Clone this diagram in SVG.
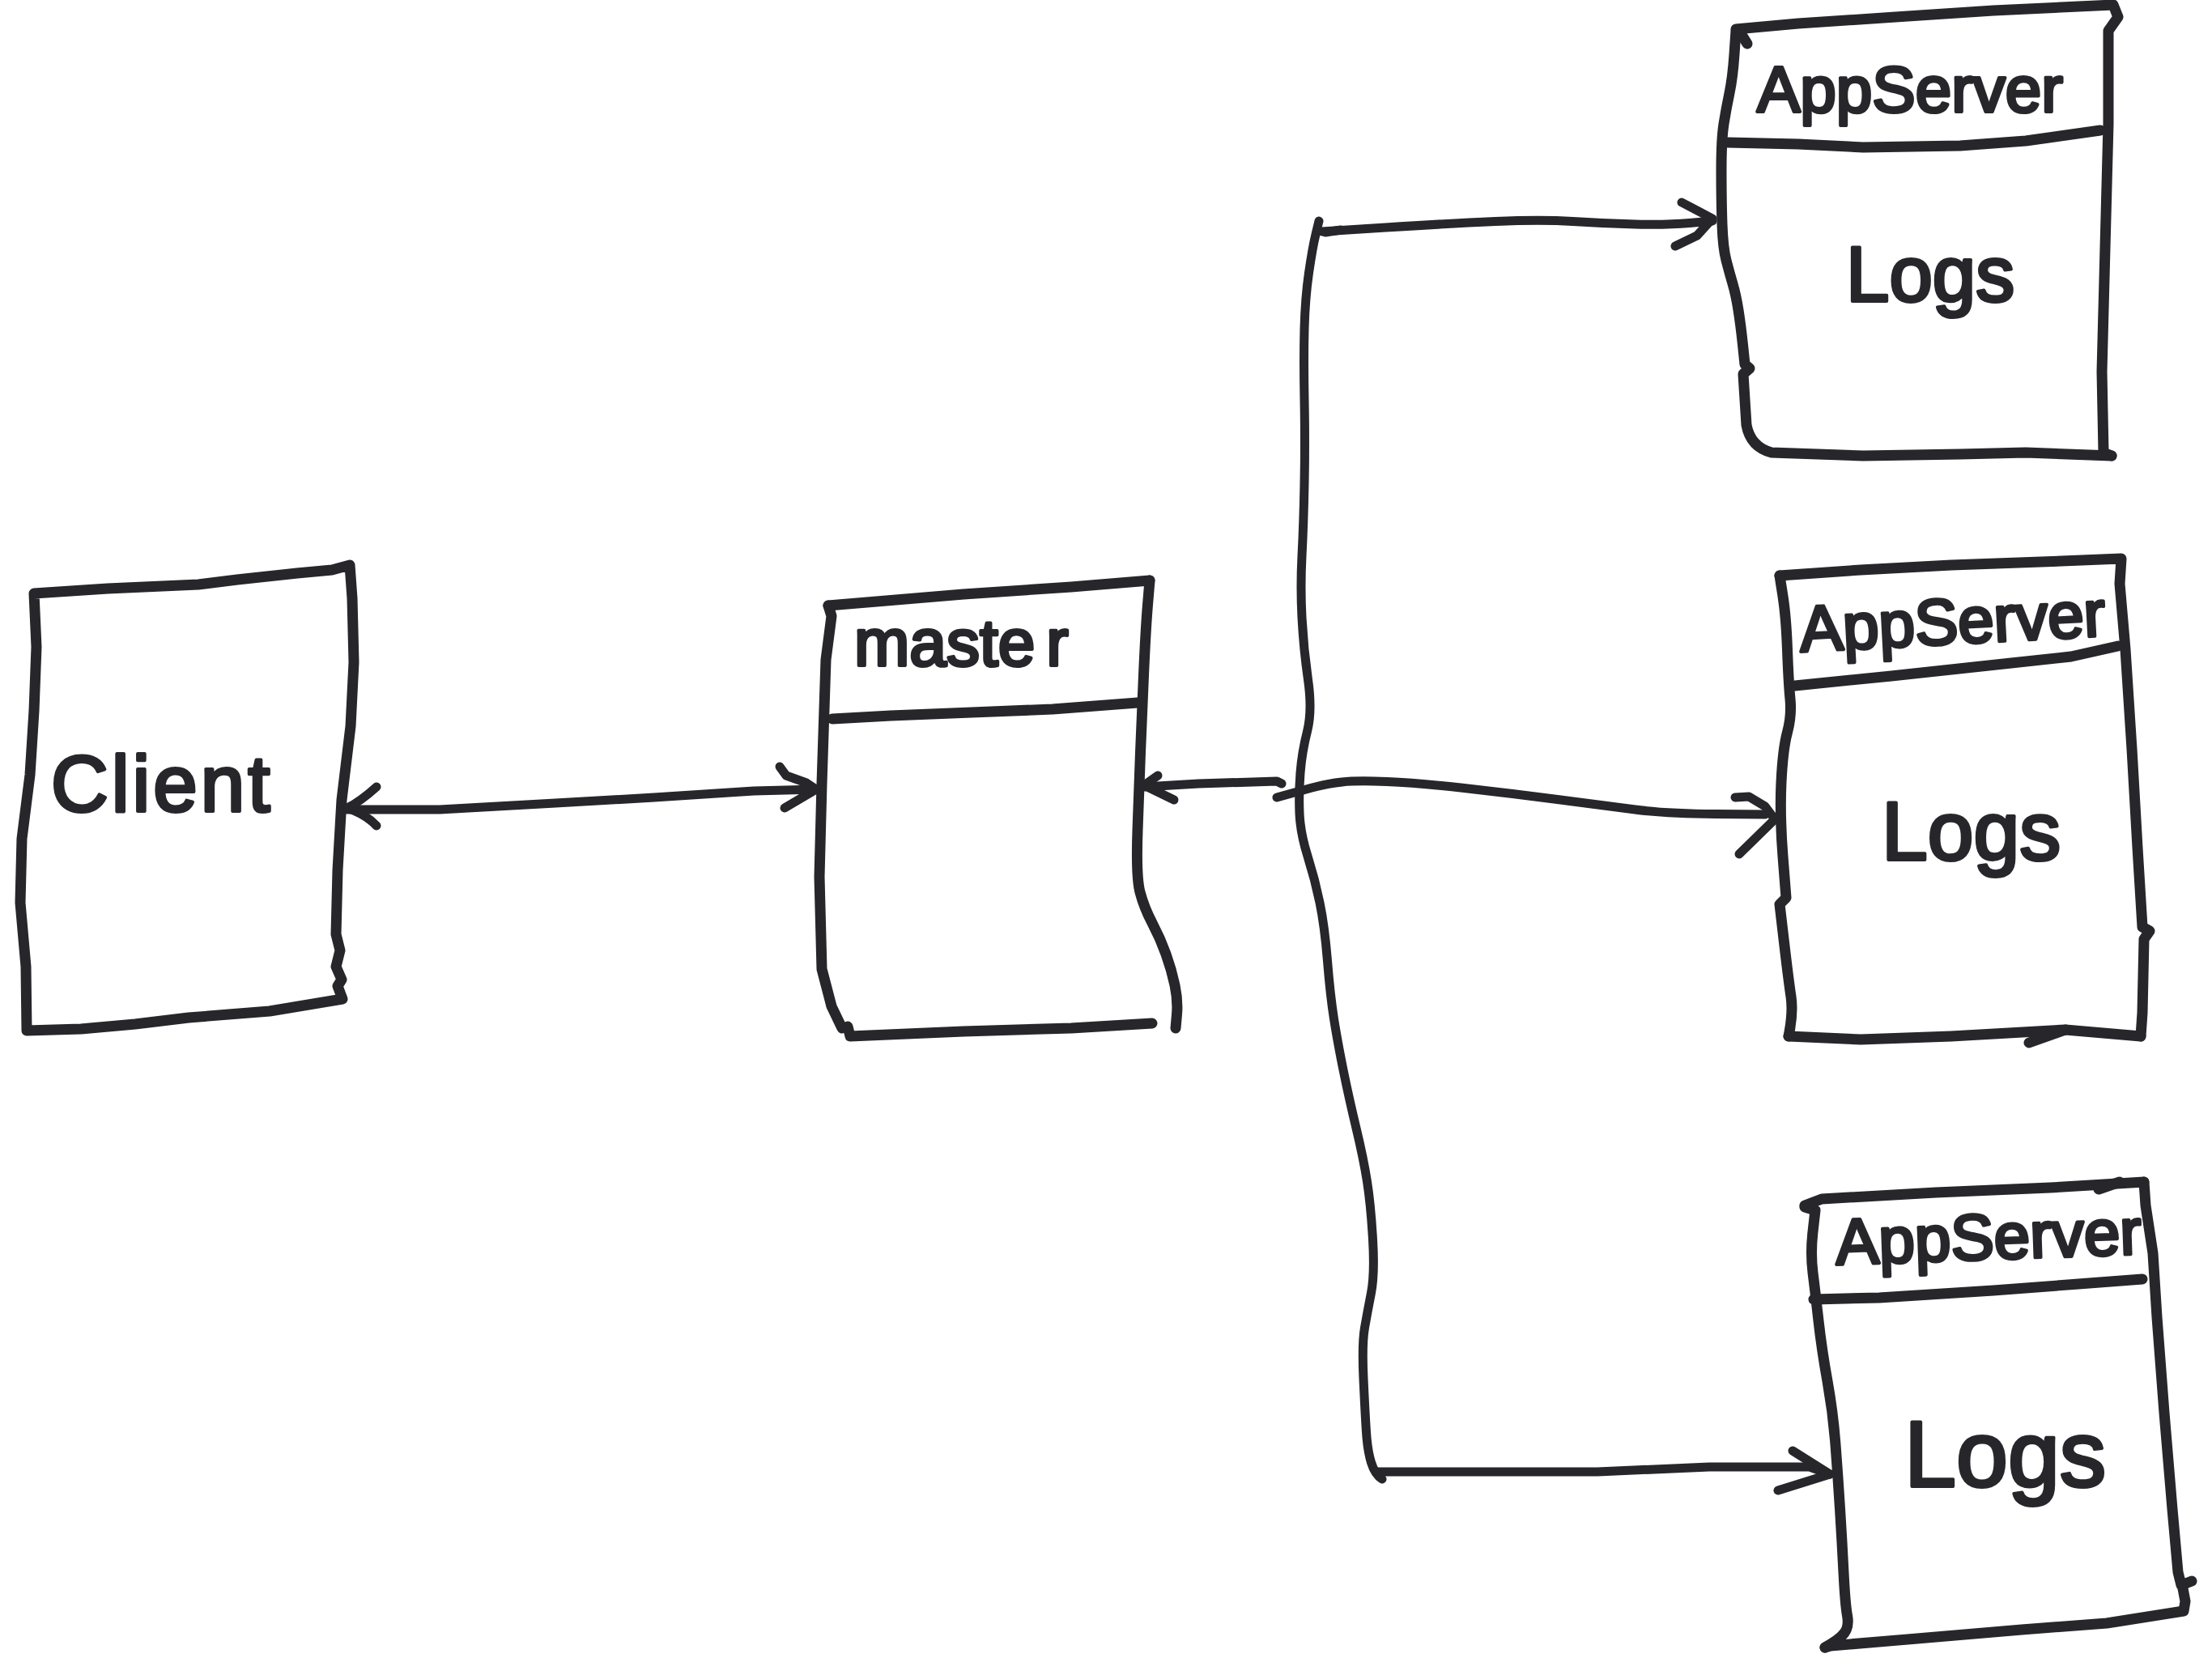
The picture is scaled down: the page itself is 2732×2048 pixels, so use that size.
<svg xmlns="http://www.w3.org/2000/svg" width="2732" height="2048" viewBox="0 0 2732 2048">
  <style>
    .ink { fill: none; stroke: #26262b; stroke-width: 13; stroke-linecap: round; stroke-linejoin: round; }
    .wire { fill: none; stroke: #26262b; stroke-width: 11; stroke-linecap: round; stroke-linejoin: round; }
    .label { fill: #26262b; stroke: #26262b; stroke-width: 4; stroke-linejoin: round; font-family: "Liberation Sans", Arial, sans-serif; }
  </style>
  <rect width="2732" height="2048" fill="#ffffff"/>

  <!-- Client -->
  <g id="client">
    <path class="ink" d="M42,733 L133,727 L245,722 L293,716 L367,708 L410,704 L432,698 L435,739 L437,818 L433,897 L422,988 L417,1075 L415,1154 L420,1174 L415,1194 L422,1210 L417,1218 L423,1234 L333,1249 L233,1257 L167,1265 L100,1271 L33,1273 L32,1194 L25,1115 L27,1036 L37,957 L42,878 L45,799 Z"/>
    <text class="label" x="63" y="1002" font-size="98" letter-spacing="4">Client</text>
  </g>

  <!-- Master -->
  <g id="master">
    <path class="ink" d="M1023,748 L1190,734 L1323,725 L1420,717"/>
    <path class="ink" d="M1420,717 L1417.5,747 Q1415,777 1412.5,834 Q1410,891 1408.5,929.5 Q1407,968 1405,1025.5 Q1403,1083 1408,1102 Q1413,1121 1423,1140 Q1433,1159 1440,1178.5 Q1447,1198 1451,1217 Q1455,1236 1453.5,1253 L1452,1270"/>
    <path class="ink" d="M1023,748 L1027,761 L1020,815 L1015,968 L1012,1083 L1015,1197 L1027,1243 L1040,1270"/>
    <path class="ink" d="M1047,1268 L1050,1280 L1190,1274 L1323,1270 L1423,1264"/>
    <path class="ink" d="M1028,888 L1100,884 L1200,880 L1300,876 L1405,868"/>
    <text class="label" x="1055" y="822" font-size="82">maste<tspan dx="14">r</tspan></text>
  </g>

  <!-- AppServer (top) -->
  <g id="appserver-1">
    <path class="ink" d="M2144,36 L2221,29 L2341,21 L2462,13 L2610,6 L2616,21 L2604,38 L2604,153 L2600,306 L2596,459 L2598,559 L2608,563"/>
    <path class="ink" d="M2144,38 L2142,67 Q2140,96 2136,115 Q2132,134 2129,153 Q2126,172 2126,210.5 Q2126,249 2127,277.5 Q2128,306 2132,321.5 Q2136,337 2140,350.5 Q2144,364 2147,383 Q2150,402 2152.5,426 L2155,450 L2161,455 L2153,462 L2157,525 Q2162,552 2188,559 L2301,563 L2421,561 L2502,559 L2608,563"/>
    <path class="ink" d="M2148,38 L2158,54"/>
    <path class="ink" d="M2134,176 L2221,178 L2301,182 L2421,180 L2502,174 L2594,161"/>
    <text class="label" x="2170" y="138" font-size="80">AppServer</text>
    <text class="label" x="2280" y="372" font-size="96">Logs</text>
  </g>

  <!-- AppServer (middle) -->
  <g id="appserver-2">
    <path class="ink" d="M2198,711 L2298,704 L2410,698 L2521,694 L2620,690 L2618,721 L2625,802 L2633,925 L2640,1047 L2646,1145 L2655,1150 L2648,1160 L2646,1251 L2644,1280"/>
    <path class="ink" d="M2644,1280 L2551,1272 L2410,1280 L2298,1284 L2209,1280"/>
    <path class="ink" d="M2506,1288 L2551,1272"/>
    <path class="ink" d="M2198,711 L2202,736.5 Q2206,762 2207.5,802.5 Q2209,843 2211,863.5 Q2213,884 2207.5,904.5 Q2202,925 2200,966 Q2198,1007 2202,1058 L2206,1109 L2198,1117 L2203.5,1164 Q2209,1211 2212,1231 Q2215,1251 2209,1280"/>
    <path class="ink" d="M2217,847 L2336,835 L2484,819 L2558,811 L2616,798"/>
    <text class="label" x="2224" y="805" font-size="80" transform="rotate(-3 2224 805)">AppServer</text>
    <text class="label" x="2324" y="1062" font-size="102">Logs</text>
  </g>

  <!-- AppServer (bottom) -->
  <g id="appserver-3">
    <path class="ink" d="M2229,1489 L2250,1481 L2391,1473 L2532,1467 L2648,1460"/>
    <path class="ink" d="M2592,1469 L2618,1460"/>
    <path class="ink" d="M2648,1460 L2650,1489 L2659,1548 L2664,1627 L2673,1745 L2683,1864 L2690,1942 L2694,1958 L2707,1953"/>
    <path class="ink" d="M2696,1962 L2699,1978 L2697,1990 L2602,2005 L2497,2013 L2356,2025 L2261,2033 L2254,2035"/>
    <path class="ink" d="M2229,1491 L2242,1495 L2239,1521.5 Q2236,1548 2239,1572 Q2242,1596 2246,1631.5 Q2250,1667 2257,1706 Q2264,1745 2267,1784.5 Q2270,1824 2272.5,1863.5 Q2275,1903 2277,1942.5 Q2279,1982 2281.5,1995.5 Q2284,2009 2278,2017 Q2272,2025 2254,2035"/>
    <path class="ink" d="M2240,1605 L2321,1603 L2462,1594 L2567,1586 L2646,1580"/>
    <text class="label" x="2268" y="1562" font-size="80" transform="rotate(-2 2268 1562)">AppServer</text>
    <text class="label" x="2352" y="1836" font-size="115">Logs</text>
  </g>

  <!-- Connectors -->
  <g id="connectors">
    <!-- client <-> master -->
    <path class="wire" d="M429,1000 L543,1000 L686,992 L808,985 L931,977 L1008,975"/>
    <path class="wire" d="M465,972 Q445,990 429,998 Q452,1006 465,1020"/>
    <path class="wire" d="M963,947 L971,958 L996,967 L1008,975 L969,998"/>
    <!-- junction to master -->
    <path class="wire" d="M1583,968 L1577,965 L1480,968 L1413,972"/>
    <path class="wire" d="M1430,958 L1413,970 L1450,988"/>
    <!-- trunk -->
    <path class="wire" d="M1629,273 L1625,289.5 Q1621,306 1616.5,337 Q1612,368 1611,406 Q1610,444 1611,495 Q1612,546 1611,597 Q1610,648 1608,686.5 Q1606,725 1608,763 Q1610,801 1615.5,839.5 Q1621,878 1614.5,903.5 Q1608,929 1606,954.5 Q1604,980 1605,1004.5 Q1606,1029 1615,1057.5 Q1624,1086 1630,1115 Q1636,1144 1639.5,1187 Q1643,1230 1647.5,1258.5 Q1652,1287 1659,1321.5 Q1666,1356 1675,1393.5 Q1684,1431 1688.5,1459.5 Q1693,1488 1695.5,1531 Q1698,1574 1693.5,1597 Q1689,1620 1685.5,1640 Q1682,1660 1684,1703 Q1686,1746 1687.5,1769 Q1689,1792 1693.5,1806.5 Q1698,1821 1707,1827"/>
    <!-- branch to top server -->
    <path class="wire" d="M1633,286 L1711.5,281 Q1790,276 1847,273.5 Q1904,271 1942.5,273.5 Q1981,276 2019.5,277 Q2058,278 2086.5,275.5 L2115,273"/>
    <path class="wire" stroke-width="17" d="M1637,287 L1656,284"/>
    <path class="wire" d="M2077,250 L2115,270 L2096,291 L2069,304"/>
    <!-- branch to middle server -->
    <path class="wire" d="M1577,985 L1595,980 Q1613,975 1626.5,971.5 Q1640,968 1657.5,966 Q1675,964 1713,965.5 Q1751,967 1808.5,973.5 Q1866,980 1923.5,987.5 Q1981,995 2019.5,1000 Q2058,1005 2119,1005.5 L2180,1006"/>
    <path class="wire" d="M2143,985 L2160,984 L2180,996 L2192,1012 L2148,1055"/>
    <!-- branch to bottom server -->
    <path class="wire" d="M1702,1818 L1835,1818 L1973,1818 L2111,1812 L2235,1812 L2260,1821"/>
    <path class="wire" d="M2214,1792 L2260,1821 L2196,1841"/>
  </g>
</svg>
